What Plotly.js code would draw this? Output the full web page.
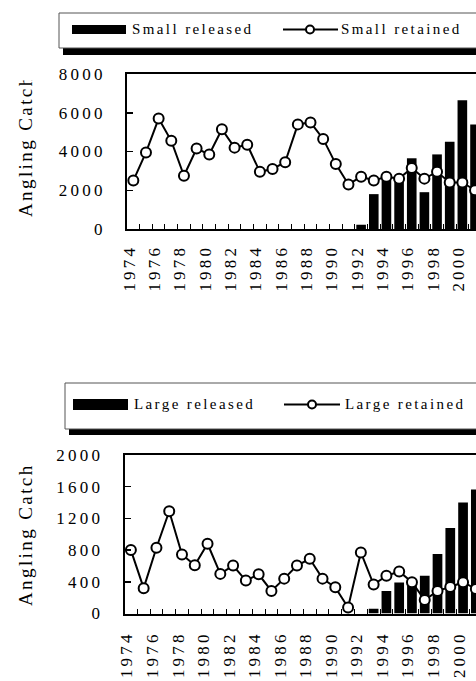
<!DOCTYPE html>
<html><head><meta charset="utf-8">
<script src="https://cdn.plot.ly/plotly-3.0.1.min.js"></script>
<style>
html,body{margin:0;padding:0;overflow:hidden;background:#fff;}
#chart{width:520px;height:681px;}
.xtick text,.ytick text,.x2tick text,.y2tick text{letter-spacing:3.2px;}
.annotation-text{letter-spacing:2.4px;}
</style></head><body><div id="chart"></div>
<script>
// ---- data ----
const years = [1974,1975,1976,1977,1978,1979,1980,1981,1982,1983,1984,1985,1986,1987,1988,1989,1990,1991,1992,1993,1994,1995,1996,1997,1998,1999,2000,2001];
const smallRetained = [2500,3950,5700,4550,2750,4150,3850,5150,4200,4350,2950,3100,3450,5400,5500,4650,3350,2300,2700,2500,2700,2600,3150,2600,2950,2400,2400,2000];
const smallReleasedYears = [1992,1993,1994,1995,1996,1997,1998,1999,2000,2001];
const smallReleased = [220,1800,2550,2450,3650,1900,3850,4500,6650,5400];
const largeRetained = [800,320,830,1290,745,610,880,500,605,415,495,285,440,605,690,440,330,75,770,365,475,530,395,170,285,335,395,310];
const largeReleasedYears = [1993,1994,1995,1996,1997,1998,1999,2000,2001];
const largeReleased = [60,285,390,350,475,750,1080,1400,1565];
const tickYears = [1974,1976,1978,1980,1982,1984,1986,1988,1990,1992,1994,1996,1998,2000];
const tickLabels = ["1974","1976","1978","1980","1982","1984","1986","1988","1990","1992","1994","1996","1998","2000"];
const smallTicks = [0,2000,4000,6000,8000];
const largeTicks = [0,400,800,1200,1600,2000];
const seriesNames = ["Small released","Small retained","Large released","Large retained"];
const yTitle = "Angling Catch";

// ---- layout helpers ----
const W = 520, H = 681;
const px = x => x / W, py = y => 1 - y / H;
const FONT = "Liberation Serif";
const minorVals = years.map(y => y + 0.5);

function xAxis(d0, d1, anchor, standoff) {
  return {
    domain: [px(d0), px(d1)], range: [1973.5, 2002.5], anchor: anchor,
    tickmode: 'array', tickvals: tickYears, ticktext: tickLabels, tickangle: -90,
    ticks: '', showline: true, linewidth: 2, linecolor: 'black', mirror: true,
    showgrid: false, zeroline: false, ticklabelstandoff: standoff, ticklabelshift: -4,
    tickfont: {family: FONT, size: 17, color: 'black'},
    minor: {tickmode: 'array', tickvals: minorVals, ticks: 'inside', ticklen: 5, tickwidth: 1, tickcolor: 'black', showgrid: false}
  };
}
function yAxis(top, bottom, anchor, max, vals) {
  return {
    domain: [py(bottom), py(top)], range: [0, max], anchor: anchor,
    tickmode: 'array', tickvals: vals, ticktext: vals.map(String),
    ticks: 'inside', ticklen: 6, tickwidth: 1.5, tickcolor: 'black',
    showline: true, linewidth: 2, linecolor: 'black', mirror: true,
    showgrid: false, zeroline: false, ticklabelstandoff: 16,
    tickfont: {family: FONT, size: 17, color: 'black'}
  };
}

const barStyle = {color: 'black', line: {width: 0}};
const lineStyle = {color: 'black', width: 2};
const markerStyle = {symbol: 'circle', size: 10, color: 'white', line: {color: 'black', width: 2}};

const traces = [
  {type: 'bar', x: smallReleasedYears, y: smallReleased, name: seriesNames[0], width: 0.76, marker: barStyle, xaxis: 'x', yaxis: 'y', showlegend: false},
  {type: 'scatter', mode: 'lines+markers', x: years, y: smallRetained, name: seriesNames[1], line: lineStyle, marker: markerStyle, xaxis: 'x', yaxis: 'y', showlegend: false, cliponaxis: false},
  {type: 'bar', x: largeReleasedYears, y: largeReleased, name: seriesNames[2], width: 0.76, marker: barStyle, xaxis: 'x2', yaxis: 'y2', showlegend: false},
  {type: 'scatter', mode: 'lines+markers', x: years, y: largeRetained, name: seriesNames[3], line: lineStyle, marker: markerStyle, xaxis: 'x2', yaxis: 'y2', showlegend: false, cliponaxis: false}
];

// legend boxes drawn as shapes
function legendShapes(bx, by0, by1, shadow, swX0, swX1, swY0, swY1, lnX0, lnX1, lnY, cx) {
  return [
    {type: 'rect', xref: 'paper', yref: 'paper', x0: px(bx + 4), x1: px(W + 10), y0: py(by0 + 4), y1: py(by1 + shadow), fillcolor: 'black', line: {width: 0}},
    {type: 'rect', xref: 'paper', yref: 'paper', x0: px(bx), x1: px(W + 10), y0: py(by0), y1: py(by1), fillcolor: 'white', line: {color: '#555', width: 1}},
    {type: 'rect', xref: 'paper', yref: 'paper', x0: px(swX0), x1: px(swX1), y0: py(swY0), y1: py(swY1), fillcolor: 'black', line: {width: 0}},
    {type: 'line', xref: 'paper', yref: 'paper', x0: px(lnX0), x1: px(lnX1), y0: py(lnY), y1: py(lnY), line: {color: 'black', width: 2}},
    {type: 'circle', xref: 'paper', yref: 'paper', x0: px(cx - 4), x1: px(cx + 4), y0: py(lnY - 4), y1: py(lnY + 4), fillcolor: 'white', line: {color: 'black', width: 2}}
  ];
}
const shapes = [].concat(
  legendShapes(59, 13, 48, 7, 72, 126, 25, 34, 283, 338, 29.5, 310),
  legendShapes(65, 383, 429, 6, 73, 128, 399, 410, 284, 340, 404.5, 312)
);

function txt(text, x, y, opts) {
  return Object.assign({text: text, xref: 'paper', yref: 'paper', x: px(x), y: py(y), xanchor: 'left', yanchor: 'middle', showarrow: false, font: {family: FONT, size: 15, color: 'black'}}, opts || {});
}
const titleFont = {family: FONT, size: 19, color: 'black'};
const annotations = [
  txt(seriesNames[0], 130, 29),
  txt(seriesNames[1], 339, 29),
  txt(seriesNames[2], 132, 404),
  txt(seriesNames[3], 343, 404),
  txt(yTitle, 25, 146, {xanchor: 'center', textangle: -90, font: titleFont}),
  {text: ' ', xref: 'paper', yref: 'paper', x: px(25), y: py(67.5), xanchor: 'center', yanchor: 'middle', width: 36, height: 23, bgcolor: 'white', showarrow: false},
  txt(yTitle, 25, 535, {xanchor: 'center', textangle: -90, font: titleFont})
];

const layout = {
  width: W, height: H, margin: {l: 0, r: 0, t: 0, b: 0},
  paper_bgcolor: 'white', plot_bgcolor: 'white', showlegend: false,
  font: {family: FONT, color: 'black'},
  xaxis: xAxis(127, 494, 'y', 7),
  yaxis: yAxis(74, 229, 'x', 8000, smallTicks),
  xaxis2: xAxis(124.5, 495, 'y2', 9),
  yaxis2: yAxis(455, 613.5, 'x2', 2000, largeTicks),
  shapes: shapes, annotations: annotations
};

Plotly.newPlot('chart', traces, layout, {displayModeBar: false, staticPlot: true});
</script></body></html>
